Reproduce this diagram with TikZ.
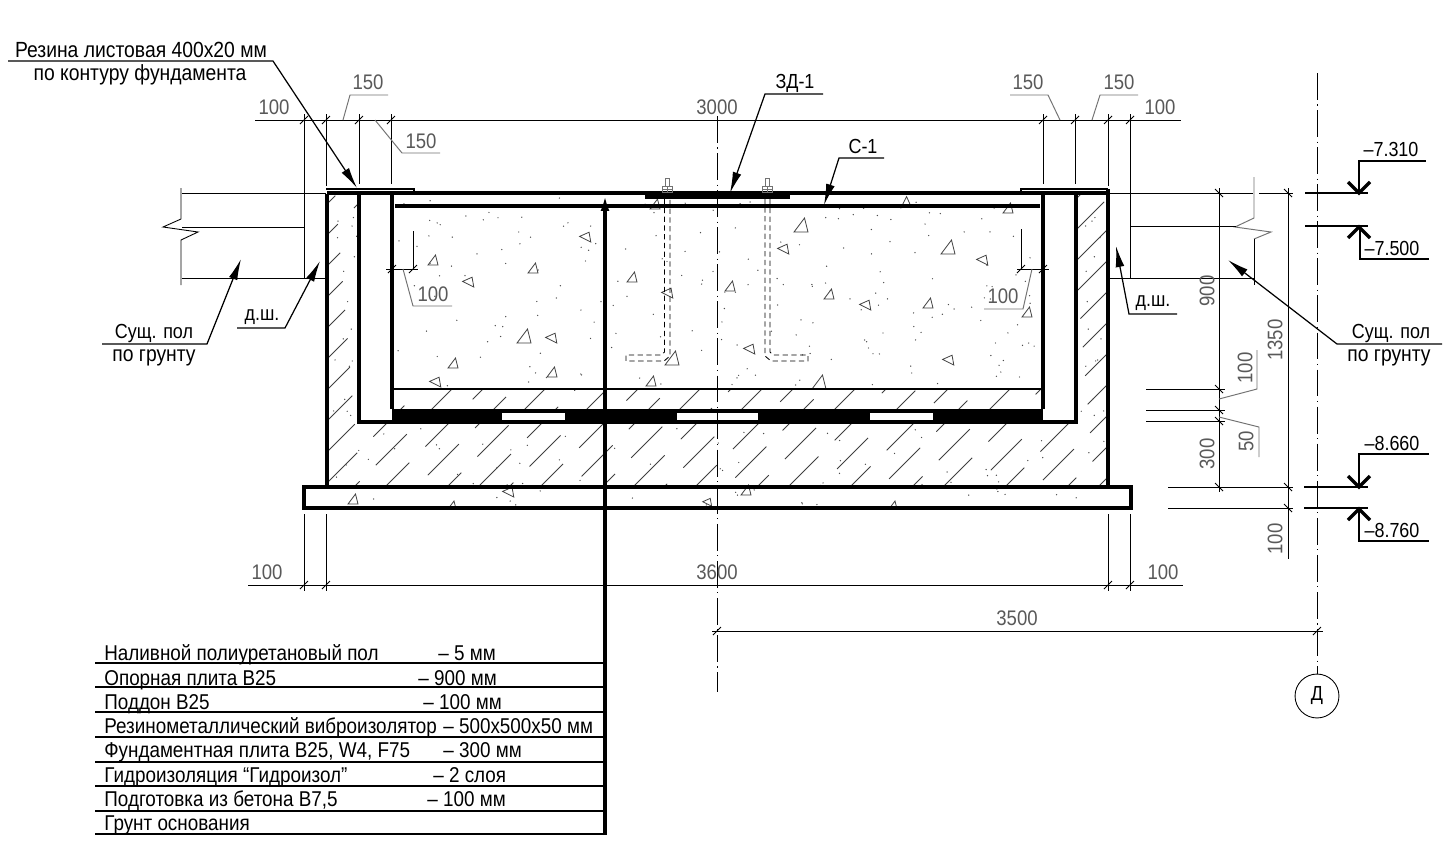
\documentclass[tikz,border=0pt]{standalone}
\usepackage{fontspec}
\setmainfont{Liberation Sans}[FakeStretch=0.88]
\usetikzlibrary{arrows.meta}

\tikzset{
  wall/.style={line width=1.8pt},
  thinline/.style={line width=0.5pt},
  dimtick/.style={line width=0.45pt},
  grayline/.style={line width=0.55pt, color=black!55},
  hatchline/.style={line width=0.5pt, color=black!75},
  grain/.style={line width=0.45pt, color=black!75},
  pointer/.style={line width=0.7pt, -{Latex[length=12pt,width=5pt]}},
  axisline/.style={line width=0.5pt, dash pattern=on 15.3pt off 2.6pt on 0.6pt off 2.6pt},
  level/.style={line width=1.1pt},
  chevron/.style={line width=1.9pt},
  dimtext/.style={font=\fontsize{12}{14}\selectfont, text=black!65, inner sep=0pt},
  labeltext/.style={font=\fontsize{11.6}{14}\selectfont, inner sep=0pt},
  titletext/.style={font=\fontsize{12.5}{14}\selectfont, inner sep=0pt},
  rowtext/.style={font=\fontsize{12.2}{14}\selectfont, inner sep=0pt, anchor=base west},
}

\begin{document}
\begin{tikzpicture}[x=0.02cm, y=-0.02cm]
\useasboundingbox (0,0) rectangle (1451,850);
\fill[white] (0,0) rectangle (1451,850);

% hatching of the tray and the foundation slab
\begin{scope}
\clip (327,194) -- (359,194) -- (359,423) -- (1076,423) -- (1076,194) -- (1108,194) -- (1108,487) -- (327,487) -- cycle
      (392,390) rectangle (1043,409);
\foreach \hx [count=\hn] in {0,31,...,1300} {
  \pgfmathsetmacro\hphase{mod(\hn*23,38)}
  \draw[hatchline, dash pattern=on 25pt off 13pt, dash phase=\hphase pt] (\hx,500) -- ++(320,-320);
}
\end{scope}

% filler dots
\pgfmathsetseed{1451}
\foreach \dn in {1,...,200} {
  \pgfmathsetmacro\dx{396+rnd*644}
  \pgfmathsetmacro\dy{198+rnd*188}
  \fill[black!70] (\dx,\dy) circle (0.7);
}
\foreach \dn in {1,...,70} {
  \pgfmathsetmacro\dx{330+rnd*776}
  \pgfmathsetmacro\dy{426+rnd*80}
  \fill[black!70] (\dx,\dy) circle (0.7);
}
\foreach \dn in {1,...,16} {
  \pgfmathsetmacro\dy{196+rnd*225}
  \fill[black!70] (333+rnd*22,\dy) circle (0.7);
  \fill[black!70] (1080+rnd*24,\dy) circle (0.7);
}

% aggregate grains
\foreach \gx/\gy/\gs/\gr in {
  585/238/5/100, 533/268/5/0, 524/336/7/0, 551/339/5/100, 552/372/5/0, 632/277/5/0, 667/294/5/100,
  730/286/5/0, 651/381/5/0, 672/358/7/0, 749/350/5/100, 819/382/7/0, 801/225/7/0, 783/250/5/100,
  829/294/5/0, 865/306/5/100, 928/303/5/0, 948/361/5/100, 948/247/7/0, 905/202/5/10, 655/204/5/0,
  433/260/5/0, 468/283/5/100, 453/363/5/0, 435/383/5/100, 982/261/5/100, 1027/312/5/0, 1008/208/5/0,
  353/499/5/0, 508/493/5/100, 452/505/4/0, 707/503/4/100, 746/490/5/0, 893/505/4/0} {
  \draw[grain, shift={(\gx,\gy)}, rotate=\gr] (-\gs,\gs) -- (\gs,\gs) -- (0.5*\gs,-\gs) -- cycle;
}

% concrete outline
\draw[wall] (327,194) -- (327,487);
\draw[wall] (1108,189) -- (1108,487);
\draw[wall] (359,194) -- (359,422) -- (1076,422) -- (1076,194);
\draw[wall] (392,194) -- (392,409);
\draw[wall] (1043,194) -- (1043,409);
\draw[wall] (327,193) -- (1108,193);
\draw[wall] (395,206) -- (1040,206);
\draw[line width=1.3pt] (392,389) -- (1043,389);
\draw[line width=1.3pt] (326,189) -- (414,189) -- (414,193);
\draw[line width=1.3pt] (1021,193) -- (1021,189) -- (1108,189);
\draw[wall] (304,487) rectangle (1131,508);

% vibration isolators
\fill (392,409) rectangle (1043,422);
\fill[white] (502,413) rectangle (565,420);
\fill[white] (677,413) rectangle (758,420);
\fill[white] (870,413) rectangle (933,420);

% embedded plate and bolts
\draw[line width=2.2pt] (645,197) -- (790,197);
\foreach \bx in {667,767} {
  \draw[grayline] (\bx-2,186) -- (\bx-2,178) -- (\bx+2,178) -- (\bx+2,186);
  \draw[grayline] (\bx-5,192) rectangle (\bx+5,186);
  \draw[grayline] (\bx-5,189) -- (\bx+5,189);
  \draw[grayline] (\bx,186) -- (\bx,192);
}
\draw[thinline, densely dashed] (664.5,199) -- (664.5,352) -- (661,355) -- (626,355) -- (626,361) -- (664,361) -- (670,356) -- (670,199);
\draw[thinline, densely dashed] (770,199) -- (770,352) -- (773,355) -- (808,355) -- (808,361) -- (771,361) -- (765,356) -- (765,199);

% floors with break lines
\draw[thinline] (181,188) -- (181,219) -- (163,227) -- (198,232) -- (181,240) -- (181,285);
\draw[thinline] (182,193) -- (326,193);
\draw[thinline] (182,227) -- (304,227);
\draw[thinline] (182,278) -- (326,278);
\draw[grayline] (1254,177) -- (1254,218) -- (1235,227) -- (1271,232) -- (1254,239);
\draw[thinline] (1254,239) -- (1254,285);
\draw[thinline] (1110,193) -- (1253,193);
\draw[thinline] (1259,193) -- (1293,193);
\draw[thinline] (1130,226) -- (1236,226);
\draw[thinline] (1108,278) -- (1254,278);

% dimension lines, top
\draw[thinline] (255,120) -- (1181,120);
\draw[thinline] (304,114) -- (304,278);
\draw[thinline] (326,114) -- (326,186);
\draw[thinline] (359,114) -- (359,184);
\draw[thinline] (391,114) -- (391,184);
\draw[thinline] (1043,114) -- (1043,184);
\draw[thinline] (1075,114) -- (1075,184);
\draw[thinline] (1108,114) -- (1108,186);
\draw[thinline] (1130,114) -- (1130,278);
\foreach \tx in {304,326,359,391,1043,1075,1108,1130} {
  \draw[dimtick] (\tx-4,124) -- (\tx+4,116);
}

% dimension lines, bottom
\draw[thinline] (248,585) -- (1183,585);
\foreach \tx in {304,326,1108,1130} {
  \draw[thinline] (\tx,514) -- (\tx,591);
  \draw[dimtick] (\tx-4,589) -- (\tx+4,581);
}
\draw[thinline] (712,631) -- (1323,631);
\foreach \tx in {717,1317} {
  \draw[dimtick] (\tx-4,635) -- (\tx+4,627);
}

% dimension lines, right
\draw[thinline] (1219,188) -- (1219,492);
\draw[thinline] (1288,188) -- (1288,559);
\draw[thinline] (1146,389) -- (1225,389);
\draw[thinline] (1146,410) -- (1225,410);
\draw[thinline] (1146,421) -- (1225,421);
\draw[thinline] (1168,487) -- (1293,487);
\draw[thinline] (1168,508) -- (1293,508);
\foreach \ty in {193,389,410,421,487} {
  \draw[dimtick] (1215,\ty-4) -- (1223,\ty+4);
}
\foreach \ty in {193,487,508} {
  \draw[dimtick] (1284,\ty-4) -- (1292,\ty+4);
}

% dimension leaders
\draw[grayline] (343,120) -- (350,95) -- (388,95);
\draw[grayline] (375,120) -- (402,153) -- (440,153);
\draw[grayline] (1060,120) -- (1048,95) -- (1010,95);
\draw[grayline] (1092,120) -- (1100,95) -- (1138,95);
\draw[grayline] (1219,399) -- (1257,389) -- (1257,350);
\draw[grayline] (1219,417) -- (1259,427) -- (1259,457);
\draw[thinline] (413,231) -- (413,270);
\draw[thinline] (386,269) -- (418,269);
\draw[dimtick] (388,273) -- (396,265);
\draw[dimtick] (409,273) -- (417,265);
\draw[grayline] (403,269) -- (413,306) -- (452,306);
\draw[thinline] (1021,229) -- (1021,270);
\draw[thinline] (1017,269) -- (1049,269);
\draw[dimtick] (1017,273) -- (1025,265);
\draw[dimtick] (1039,273) -- (1047,265);
\draw[grayline] (1032,269) -- (1023,309) -- (984,309);

% axes
\node[draw, circle, line width=0.5pt, minimum size=25pt, inner sep=0pt, labeltext] (axisD) at (1317,696) {Д};
\draw[axisline] (717,116) -- (717,692);
\draw[axisline] (1317,73) -- (axisD.north);

% level marks
\draw[level] (1305,193) -- (1368,193);
\draw[line width=1pt] (1359,193) -- (1359,161) -- (1426,161);
\draw[chevron] (1348,182) -- (1359,193) -- (1370,182);
\draw[level] (1305,226) -- (1368,226);
\draw[line width=1pt] (1360,227) -- (1360,259) -- (1429,259);
\draw[chevron] (1348,238) -- (1359,227) -- (1370,238);
\draw[level] (1304,487) -- (1368,487);
\draw[line width=1pt] (1359,487) -- (1359,454) -- (1429,454);
\draw[chevron] (1348,476) -- (1359,487) -- (1370,476);
\draw[level] (1304,508) -- (1368,508);
\draw[line width=1pt] (1359,508) -- (1359,541) -- (1429,541);
\draw[chevron] (1348,520) -- (1359,509) -- (1370,520);
\node[labeltext] (lvlA) at (1391,149) {–7.310};
\node[labeltext] (lvlB) at (1392,248) {–7.500};
\node[labeltext] (lvlC) at (1392,443) {–8.660};
\node[labeltext] (lvlD) at (1392,530) {–8.760};

% dimension labels
\node[dimtext] (dimA) at (274,107) {100};
\node[dimtext] (dimB) at (368,82) {150};
\node[dimtext] (dimC) at (421,141) {150};
\node[dimtext] (dimD) at (717,107) {3000};
\node[dimtext] (dimE) at (1028,82) {150};
\node[dimtext] (dimF) at (1119,82) {150};
\node[dimtext] (dimG) at (1160,107) {100};
\node[dimtext] (dimH) at (433,294) {100};
\node[dimtext] (dimI) at (1003,296) {100};
\node[dimtext] (dimJ) at (267,572) {100};
\node[dimtext] (dimK) at (717,572) {3600};
\node[dimtext] (dimL) at (1163,572) {100};
\node[dimtext] (dimM) at (1017,618) {3500};
\node[dimtext, rotate=90] (dimN) at (1207,291) {900};
\node[dimtext, rotate=90] (dimO) at (1275,340) {1350};
\node[dimtext, rotate=90] (dimP) at (1245,368) {100};
\node[dimtext, rotate=90] (dimQ) at (1246,441) {50};
\node[dimtext, rotate=90] (dimR) at (1207,454) {300};
\node[dimtext, rotate=90] (dimS) at (1275,539) {100};

% notes
\node[titletext] (noteRubberA) at (141,50) {Резина листовая 400х20 мм};
\node[titletext] (noteRubberB) at (140,75) {по контуру фундамента};
\node[labeltext] (notePlate) at (795,83) {ЗД-1};
\node[labeltext] (noteSlab) at (863,146) {С-1};
\node[labeltext] (noteFloorA) at (154,333) {Сущ. пол};
\node[titletext] (noteFloorB) at (154,358) {по грунту};
\node[labeltext] (noteFloorC) at (1391,333) {Сущ. пол};
\node[titletext] (noteFloorD) at (1389,358) {по грунту};
\node[labeltext] (noteJointA) at (262,317) {д.ш.};
\node[labeltext] (noteJointB) at (1153,303) {д.ш.};
\draw[pointer] (8,61) -- (273,61) -- (357,188);
\draw[pointer] (823,94) -- (765,94) -- (730,193);
\draw[pointer] (884,158) -- (839,158) -- (824,205);
\draw[pointer] (102,344) -- (207,344) -- (241,259);
\draw[pointer] (237,328) -- (285,328) -- (320,261);
\draw[pointer] (1177,314) -- (1129,314) -- (1116,246);
\draw[pointer] (1442,344) -- (1337,344) -- (1228,260);

% layer table
\draw[wall, -{Latex[length=9pt,width=5pt]}] (605,835) -- (605,195);
\foreach \ly in {663,687,712,737,762,786,811,834} {
  \draw[line width=0.9pt] (95,\ly) -- (605,\ly);
}
\foreach \rn/\ry/\rname/\rx/\rval in {
  1/660/{Наливной полиуретановый пол}/438/{– 5 мм},
  2/685/{Опорная  плита  В25}/418/{– 900 мм},
  3/709/{Поддон  В25}/423/{– 100 мм},
  4/733/{Резинометаллический виброизолятор}/443/{–  500х500х50 мм},
  5/757/{Фундаментная плита  В25, W4, F75}/443/{– 300 мм},
  6/782/{Гидроизоляция “Гидроизол”}/433/{– 2 слоя},
  7/806/{Подготовка из бетона В7,5}/427/{– 100 мм},
  8/830/{Грунт основания}/0/{}} {
  \node[rowtext] (row\rn) at (104,\ry) {\rname};
  \ifnum\rn<8
    \node[rowtext] (val\rn) at (\rx,\ry) {\rval};
  \fi
}
\end{tikzpicture}
\end{document}
